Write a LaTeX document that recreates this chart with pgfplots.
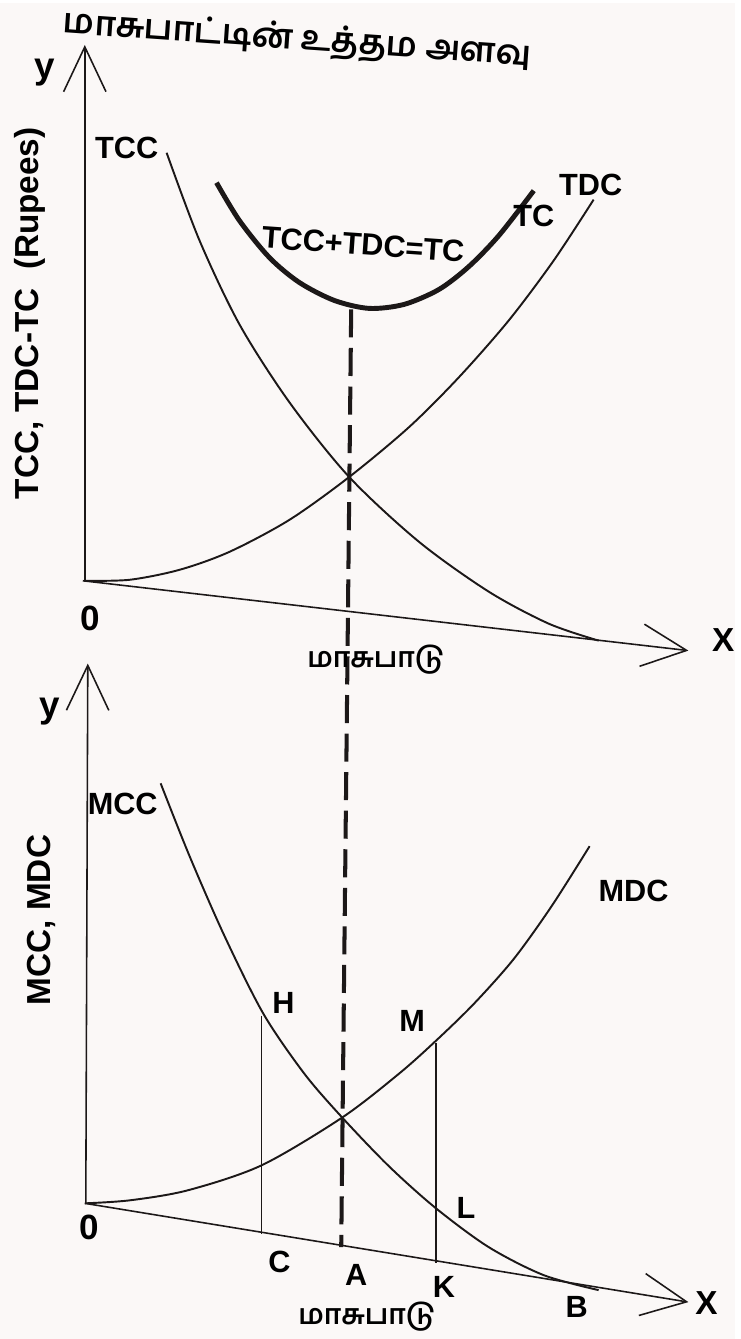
\documentclass[border=0pt]{standalone}
\usepackage{fontspec}
\setmainfont{Liberation Sans}
\newfontfamily\tamil{Hind Madurai}[Script=Tamil]
\usepackage{pgfplots}
\pgfplotsset{compat=1.18}
\usetikzlibrary{arrows.meta}
\definecolor{ink}{RGB}{28,24,24}
\definecolor{paper}{RGB}{251,248,247}

\newcommand{\lab}{\fontsize{17.5}{20}\selectfont\bfseries}
\newcommand{\biglab}{\fontsize{20}{24}\selectfont\bfseries}

\begin{document}
\begin{tikzpicture}
\begin{axis}[
    x=0.02cm, y=0.02cm,
    xmin=0, xmax=737, ymin=0, ymax=1339,
    y dir=reverse,
    hide axis, clip=false,
    every axis plot/.append style={draw=ink, line width=1.1pt, no markers},
    barb/.style={-{Straight Barb[length=0.9cm, width=0.85cm, line width=0.9pt]}},
]
% paper
\addplot[draw=none, fill=paper] coordinates {(0,1339) (737,1339)} \closedcycle;

% ---------- top panel ----------
\addplot[line width=0.9pt, barb] coordinates {(85,579) (85,42)};
\addplot[line width=0.9pt, barb] coordinates {(83,579) (690,649)};
% TCC
\addplot[smooth] coordinates {(167,150) (200,238) (240,322) (290,400) (350,475) (420,540) (490,590) (550,622) (600,639)};
% TDC
\addplot[smooth] coordinates {(84,579) (130,578) (180,568) (230,550) (290,518) (350,475) (410,425) (460,375) (510,318) (555,258) (595,197)};
% TC
\addplot[smooth, line width=2.8pt] coordinates {(217,180) (240,218) (270,255) (300,280) (335,298) (370,306) (405,302) (440,287) (470,264) (500,233) (535,188)};

% optimum level
\addplot[line width=2.3pt, dash pattern=on 16pt off 6pt] coordinates {(352,307) (342,1247)};

% ---------- bottom panel ----------
\addplot[line width=0.9pt, barb] coordinates {(86,1203) (88,662)};
\addplot[line width=0.9pt, barb] coordinates {(85,1203) (690,1302)};
% MCC
\addplot[smooth] coordinates {(161,782) (190,855) (225,935) (264,1013) (305,1073) (343,1117) (390,1166) (437,1208) (490,1247) (545,1275) (600,1290)};
% MDC
\addplot[smooth] coordinates {(85,1203) (130,1200) (188,1190) (262,1165) (343,1117) (400,1073) (437,1040) (475,1003) (515,958) (553,905) (591,845)};
% CH and KM
\addplot[line width=0.7pt] coordinates {(262,1015) (262,1234)};
\addplot[line width=0.7pt] coordinates {(437,1042) (437,1263)};

% ---------- text ----------
\node[rotate=-4, font=\tamil\bfseries\fontsize{19.5}{22}\selectfont] at (axis cs:298,37) {மாசுபாட்டின் உத்தம அளவு};
\node[font=\fontsize{21}{24}\selectfont\bfseries] at (axis cs:45,70) {y};
\node[rotate=90, font=\fontsize{19}{22}\selectfont\bfseries] at (axis cs:30,311) {TCC, TDC-TC~~(Rupees)};
\node[font=\lab] at (axis cs:127,145) {TCC};
\node[font=\lab] at (axis cs:592,182) {TDC};
\node[font=\lab] at (axis cs:535,213) {TC};
\node[rotate=-4, font=\lab] at (axis cs:364,242) {TCC+TDC=TC};
\node[font=\biglab] at (axis cs:90,617) {0};
\node[font=\fontsize{19}{22}\selectfont\bfseries] at (axis cs:725,638) {X};
\node[font=\tamil\bfseries\fontsize{16}{18}\selectfont] at (axis cs:377,658) {மாசுபாடு};

\node[font=\fontsize{21}{24}\selectfont\bfseries] at (axis cs:50,710) {y};
\node[rotate=90, font=\fontsize{19}{22}\selectfont\bfseries] at (axis cs:42,919) {MCC, MDC};
\node[font=\lab] at (axis cs:123,803) {MCC};
\node[font=\lab] at (axis cs:635,890) {MDC};
\node[font=\lab] at (axis cs:284,1002) {H};
\node[font=\lab] at (axis cs:413,1020) {M};
\node[font=\lab] at (axis cs:467,1208) {L};
\node[font=\biglab] at (axis cs:89,1227) {0};
\node[font=\lab] at (axis cs:280,1262) {C};
\node[font=\lab] at (axis cs:357,1275) {A};
\node[font=\lab] at (axis cs:445,1287) {K};
\node[font=\lab] at (axis cs:578,1307) {B};
\node[font=\fontsize{19}{22}\selectfont\bfseries] at (axis cs:708,1303) {X};
\node[font=\tamil\bfseries\fontsize{16}{18}\selectfont] at (axis cs:368,1317) {மாசுபாடு};
\end{axis}
\end{tikzpicture}
\end{document}
